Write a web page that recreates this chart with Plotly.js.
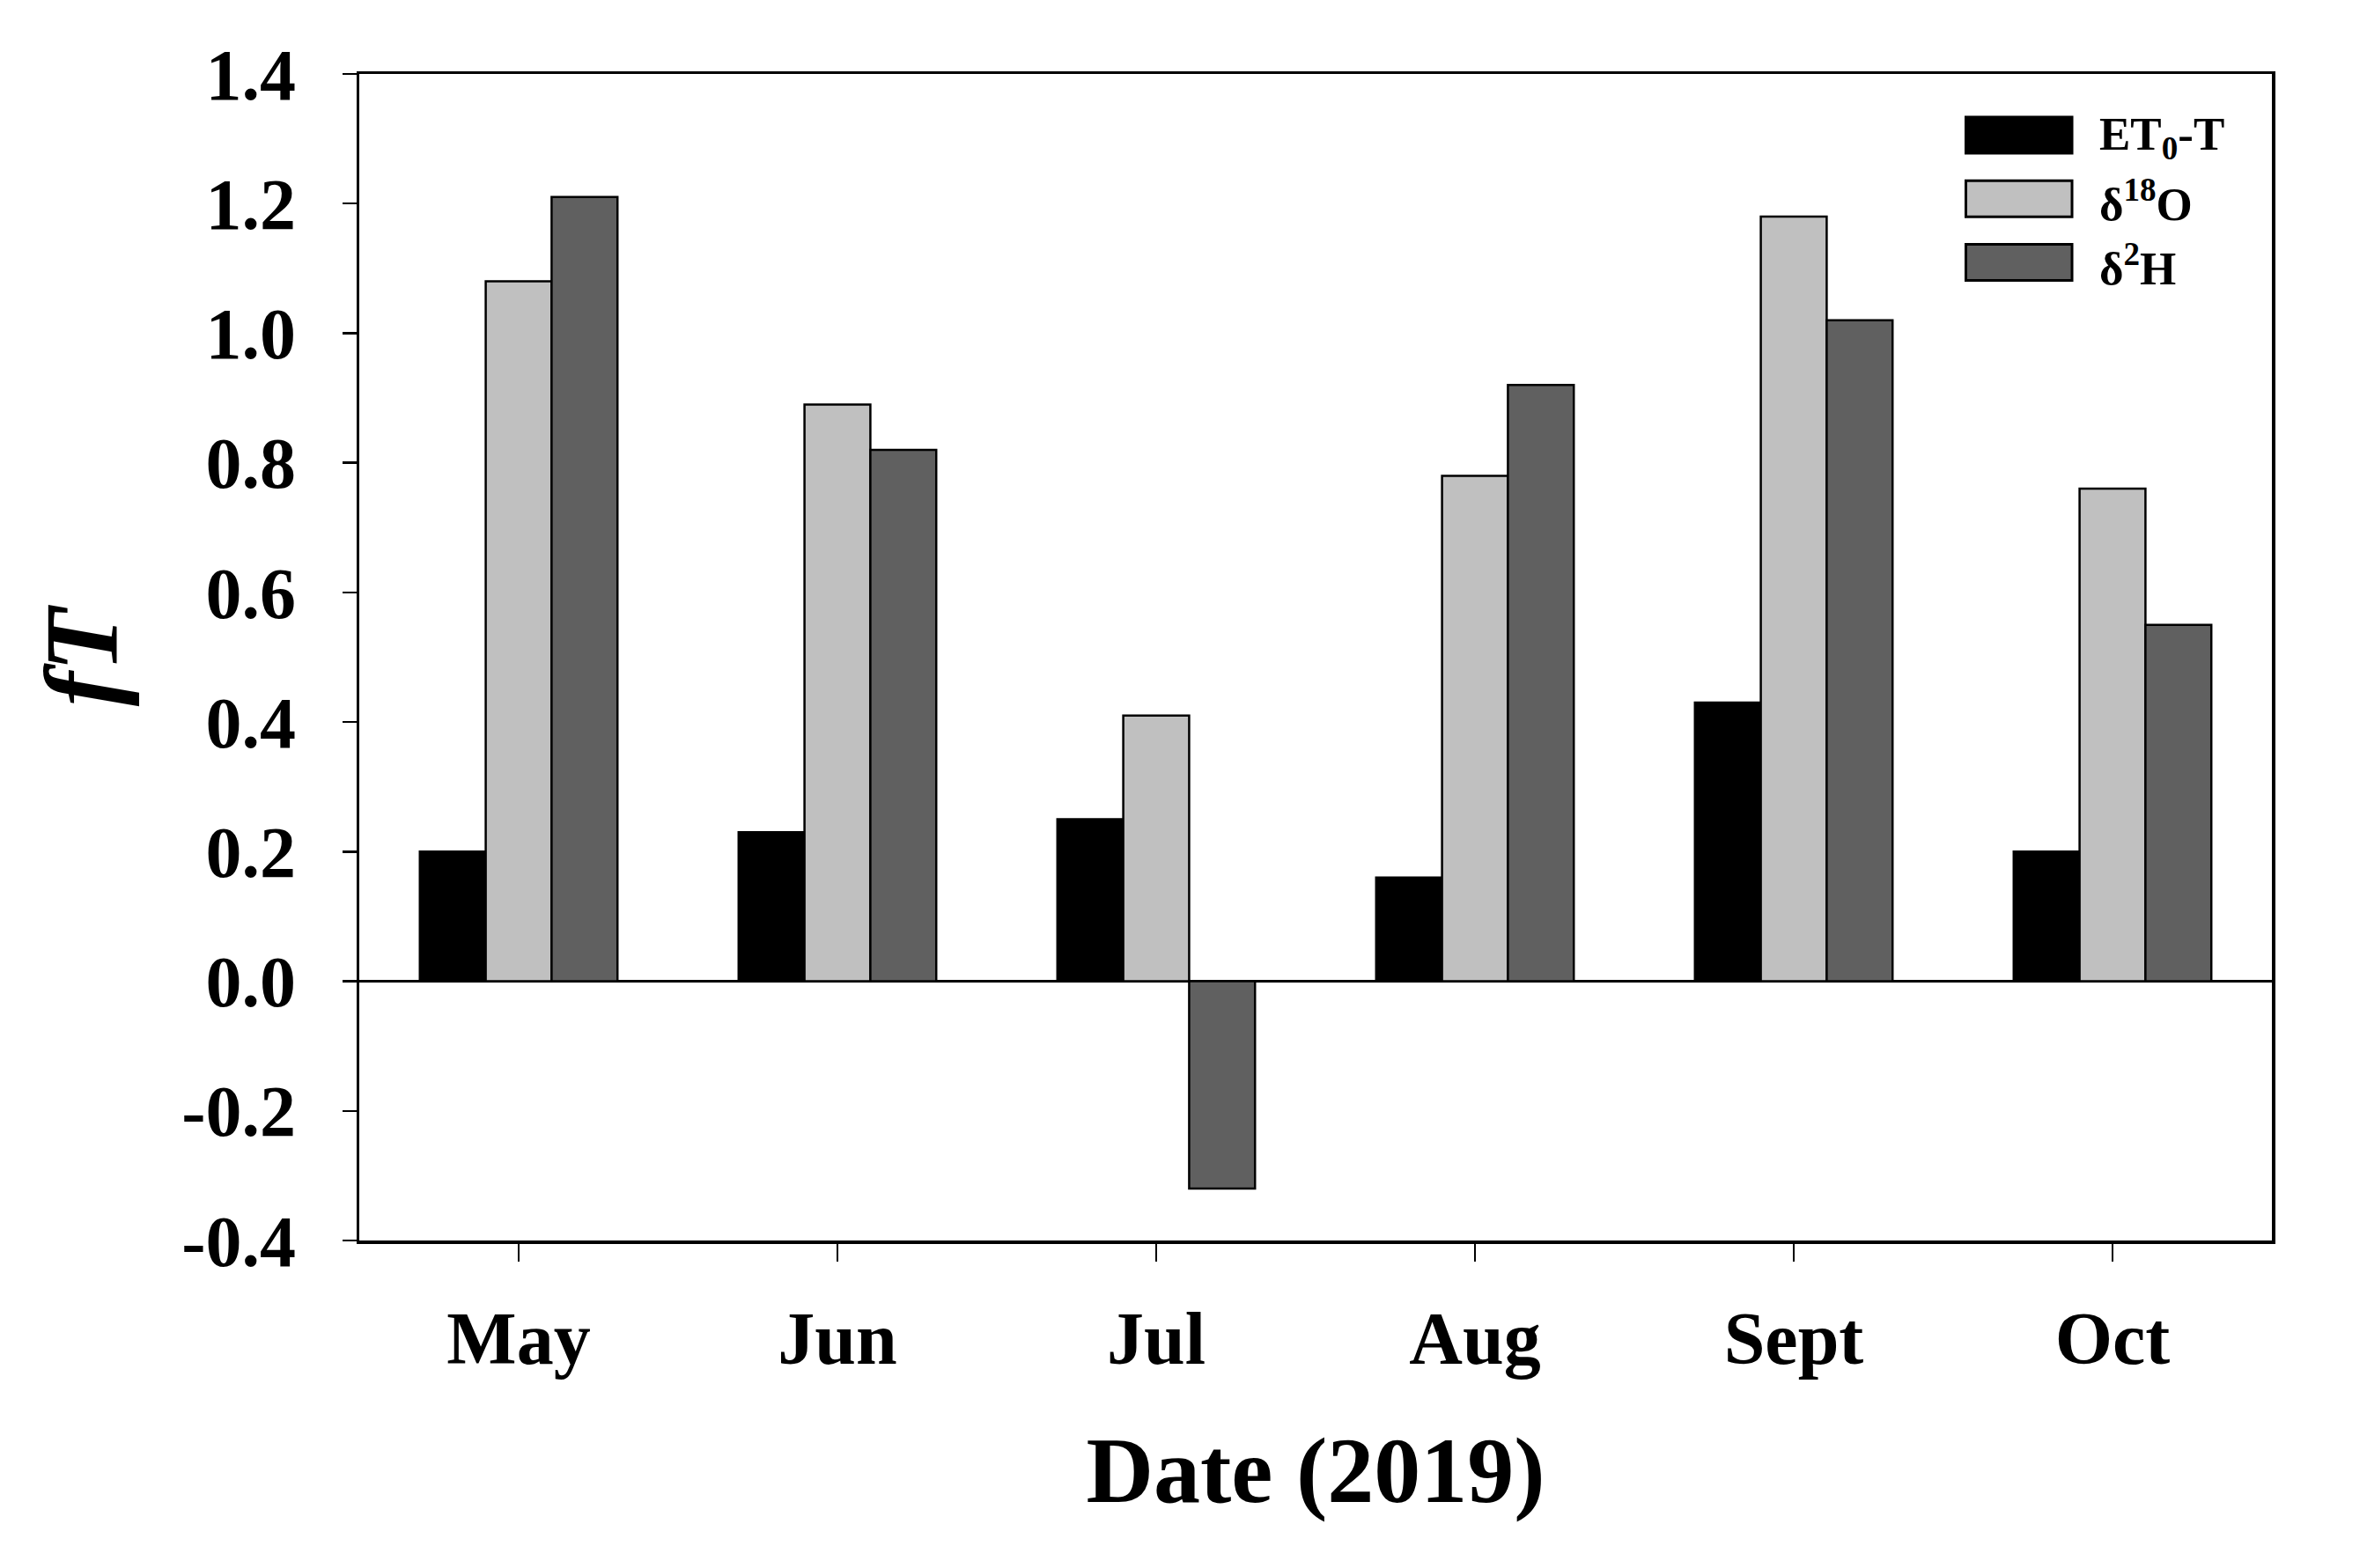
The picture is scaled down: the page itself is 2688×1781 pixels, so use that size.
<!DOCTYPE html>
<html>
<head>
<meta charset="utf-8">
<script src="https://cdn.plot.ly/plotly-3.0.1.min.js"></script>
<style>
  html, body { margin: 0; padding: 0; background: #ffffff; }
  #chart { width: 2688px; height: 1781px; }
</style>
</head>
<body>
<div id="chart"></div>
<script>
// months on the x axis
var months = ['May', 'Jun', 'Jul', 'Aug', 'Sept', 'Oct'];

// fT values per method
var et0T = [0.20, 0.23, 0.25, 0.16, 0.43, 0.20];
var d18O = [1.08, 0.89, 0.41, 0.78, 1.18, 0.76];
var d2H  = [1.21, 0.82, -0.32, 0.92, 1.02, 0.55];

var seriesNames = ['ET<sub>0</sub>-T', 'δ<sup>18</sup>O', 'δ<sup>2</sup>H'];
var seriesColors = ['#000000', '#c0c0c0', '#606060'];
var seriesValues = [et0T, d18O, d2H];

var yTicks = [-0.4, -0.2, 0.0, 0.2, 0.4, 0.6, 0.8, 1.0, 1.2, 1.4];
var yTickText = ['-0.4', '-0.2', '0.0', '0.2', '0.4', '0.6', '0.8', '1.0', '1.2', '1.4'];

var fontFamily = '"Liberation Serif", "Times New Roman", serif';

var traces = [];
for (var i = 0; i < seriesValues.length; i++) {
    traces.push({
        type: 'bar',
        x: months,
        y: seriesValues[i],
        name: seriesNames[i],
        marker: {
            color: seriesColors[i],
            line: { color: '#000000', width: 2.5 }
        },
        hoverinfo: 'x+y'
    });
}

// hand drawn legend, top right inside the frame
var shapes = [];
var annotations = [];
var legTop = 0.963, legStep = 0.0545, legH = 0.031;
for (var k = 0; k < seriesNames.length; k++) {
    var yTop = legTop - k * legStep;
    shapes.push({
        type: 'rect', xref: 'paper', yref: 'paper',
        x0: 0.840, x1: 0.8955, y0: yTop - legH, y1: yTop,
        fillcolor: seriesColors[k],
        line: { color: '#000000', width: 3 }
    });
    annotations.push({
        xref: 'paper', yref: 'paper',
        x: 0.909, y: yTop - legH / 2 - 0.002,
        xanchor: 'left', yanchor: 'middle',
        text: '<b>' + seriesNames[k] + '</b>',
        showarrow: false,
        font: { family: fontFamily, size: 53, color: '#000000' }
    });
}

var layout = {
    width: 2688,
    height: 1781,
    margin: { l: 408, r: 108, t: 84, b: 372 },
    paper_bgcolor: '#ffffff',
    plot_bgcolor: '#ffffff',
    showlegend: false,
    barmode: 'group',
    bargap: 0.38,
    bargroupgap: 0,
    font: { family: fontFamily, color: '#000000', size: 60 },
    xaxis: {
        type: 'category',
        range: [-0.5, 5.5],
        showline: true,
        linecolor: '#000000',
        linewidth: 3.5,
        mirror: true,
        ticks: 'outside',
        ticklen: 20,
        tickwidth: 2.5,
        tickcolor: '#000000',
        ticklabelstandoff: 16,
        tickfont: { family: fontFamily, size: 84, color: '#000000', weight: 'bold' },
        showgrid: false,
        title: {
            text: '<b>Date (2019)</b>',
            font: { family: fontFamily, size: 106, color: '#000000' },
            standoff: 66
        }
    },
    yaxis: {
        range: [-0.4, 1.4],
        tickvals: yTicks,
        ticktext: yTickText,
        showline: true,
        linecolor: '#000000',
        linewidth: 3.5,
        mirror: true,
        ticks: 'outside',
        ticklen: 16,
        tickwidth: 2.5,
        tickcolor: '#000000',
        ticklabelstandoff: 36,
        tickfont: { family: fontFamily, size: 82, color: '#000000', weight: 'bold' },
        showgrid: false,
        zeroline: true,
        zerolinecolor: '#000000',
        zerolinewidth: 2.5,
        title: {
            text: '<b><i>fT</i></b>',
            font: { family: fontFamily, size: 118, color: '#000000' },
            standoff: 34
        }
    },
    shapes: shapes,
    annotations: annotations
};

Plotly.newPlot('chart', traces, layout, { displayModeBar: false, staticPlot: true });
</script>
</body>
</html>
